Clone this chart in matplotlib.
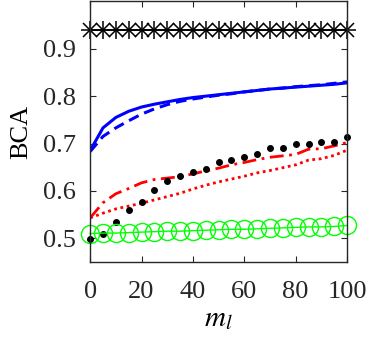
import numpy as np
import matplotlib
matplotlib.use('Agg')
import matplotlib.pyplot as plt

plt.rcParams['font.family'] = ['Liberation Serif', 'DejaVu Serif']
plt.rcParams['mathtext.fontset'] = 'stix'

# m_l values (every 5)
m_vals = [0, 5, 10, 15, 20, 25, 30, 35, 40, 45, 50, 55, 60, 65, 70, 75, 80, 85, 90, 95, 100]

star_line = [0.94, 0.94, 0.94, 0.94, 0.94, 0.94, 0.94, 0.94, 0.94, 0.94, 0.94,
             0.94, 0.94, 0.94, 0.94, 0.94, 0.94, 0.94, 0.94, 0.94, 0.94]
blue_solid = [0.685, 0.733, 0.755, 0.768, 0.777, 0.783, 0.788, 0.793, 0.797, 0.800, 0.803,
              0.806, 0.809, 0.812, 0.815, 0.817, 0.819, 0.821, 0.823, 0.825, 0.828]
blue_dashed = [0.683, 0.715, 0.733, 0.748, 0.762, 0.773, 0.782, 0.789, 0.794, 0.798, 0.802,
               0.805, 0.809, 0.812, 0.815, 0.817, 0.820, 0.822, 0.824, 0.827, 0.830]
red_dashdot = [0.543, 0.575, 0.594, 0.605, 0.617, 0.624, 0.627, 0.630, 0.636, 0.642, 0.648,
               0.655, 0.660, 0.666, 0.671, 0.674, 0.677, 0.688, 0.689, 0.695, 0.702]
red_dotted = [0.543, 0.553, 0.562, 0.568, 0.574, 0.581, 0.588, 0.595, 0.604, 0.612, 0.619,
              0.625, 0.631, 0.638, 0.643, 0.649, 0.655, 0.665, 0.668, 0.675, 0.686]
black_dots = [0.499, 0.510, 0.535, 0.559, 0.576, 0.601, 0.620, 0.631, 0.640, 0.646, 0.661,
              0.665, 0.672, 0.677, 0.690, 0.690, 0.700, 0.700, 0.704, 0.704, 0.714]
green_circ = [0.510, 0.511, 0.511, 0.512, 0.513, 0.514, 0.515, 0.515, 0.516, 0.517, 0.518,
              0.519, 0.519, 0.520, 0.521, 0.522, 0.523, 0.524, 0.524, 0.525, 0.527]

fig = plt.figure(figsize=(3.74, 3.42), dpi=100)
ax = fig.add_axes([0.241, 0.234, 0.687, 0.762])

# asterisk line (MATLAB '*' = plus + cross)
ax.plot(m_vals, star_line, '-', color='black', lw=1.2, clip_on=False)
ax.plot(m_vals, star_line, '+', color='black', ms=13, mew=1.1, clip_on=False)
ax.plot(m_vals, star_line, 'x', color='black', ms=9.5, mew=1.1, clip_on=False)

ax.plot(m_vals, blue_solid, '-', color=(0, 0, 1), lw=2.2)
ax.plot(m_vals, blue_dashed, '--', color=(0, 0, 1), lw=2.2, dashes=(3.5, 2))

ax.plot(m_vals, red_dashdot, color=(1, 0, 0), lw=2.0, dashes=(5, 2, 1, 2))
ax.plot(m_vals, red_dotted, ':', color=(1, 0, 0), lw=2.0, dashes=(1, 1.3))

ax.plot(m_vals, black_dots, '.', color='black', ms=8, clip_on=False)

ax.plot(m_vals, green_circ, '-o', color=(0, 1, 0), lw=1.0, ms=13, mfc='none',
        mew=1.0, clip_on=False)

ax.set_xlim(0, 100)
ax.set_ylim(0.45, 1.0)
ax.set_xticks([0, 20, 40, 60, 80, 100])
ax.set_yticks([0.5, 0.6, 0.7, 0.8, 0.9])
ax.set_yticklabels(['0.5', '0.6', '0.7', '0.8', '0.9'])
ax.tick_params(direction='in', length=4, width=0.8, top=True, right=True,
               labelsize=19, colors='#262626', pad=10)
ax.tick_params(axis='x', pad=14)
for s in ax.spines.values():
    s.set_linewidth(1.0)
    s.set_color('#262626')

ax.set_ylabel('BCA', fontsize=19, labelpad=8)
ax.set_xlabel('$m_l$', fontsize=21, labelpad=2)

plt.savefig('out.png', dpi=100, facecolor='white')
